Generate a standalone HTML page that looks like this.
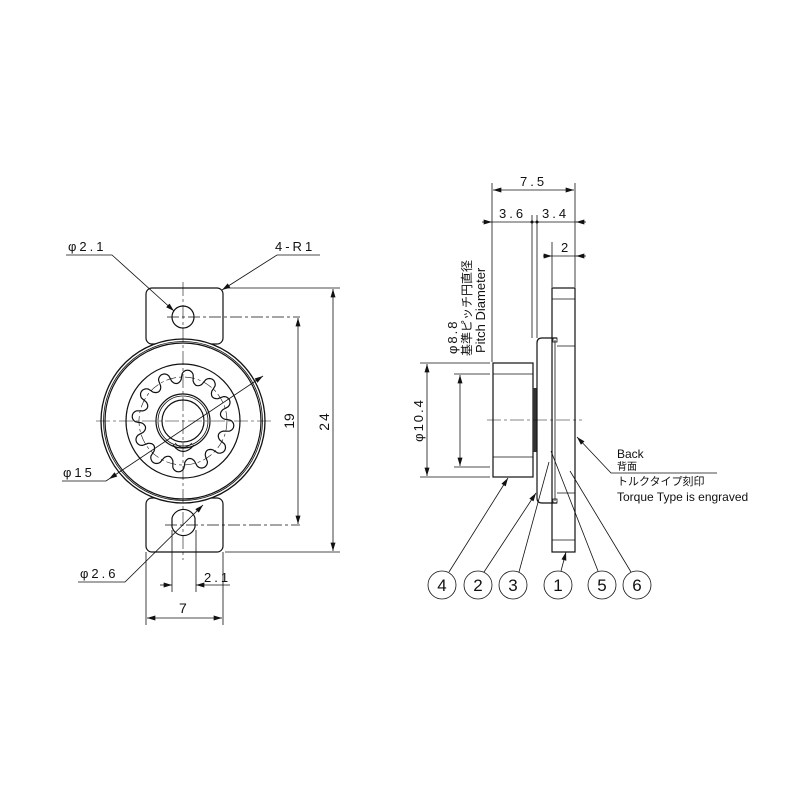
<!DOCTYPE html>
<html><head><meta charset="utf-8"><style>
html,body{margin:0;padding:0;background:#fff}
svg{display:block}
text{font-family:"Liberation Sans","Noto Sans CJK JP",sans-serif;fill:#111}
.l{stroke:#111;stroke-width:1.2;fill:none}
.t{stroke:#111;stroke-width:0.8;fill:none}
.c{stroke:#111;stroke-width:0.6;fill:none;stroke-dasharray:14 3 3 3}
</style></head><body>
<svg width="800" height="800" viewBox="0 0 800 800" xmlns="http://www.w3.org/2000/svg">
<defs>
<marker id="a" viewBox="0 0 10 6" refX="10" refY="3" markerWidth="9" markerHeight="5" orient="auto-start-reverse" markerUnits="userSpaceOnUse"><path d="M0,0 L10,3 L0,6z" fill="#111"/></marker>
</defs>
<g>
<rect class="l" x="146" y="288" width="77" height="56" rx="6"/>
<rect class="l" x="146" y="498" width="77" height="54" rx="6"/>
<circle cx="183" cy="421" r="82" fill="#fff" stroke="#111" stroke-width="1.3"/>
<circle class="l" cx="183" cy="421" r="78"/>
<circle class="t" cx="183" cy="421" r="79.5"/>
<circle class="l" cx="183" cy="421" r="57"/>
<circle cx="183" cy="421" r="44" fill="none" stroke="#111" stroke-width="0.6" stroke-dasharray="10 3 3 3"/>
<path id="gear" class="l" d=""/>
<circle class="l" cx="183" cy="421" r="27"/>
<circle class="t" cx="183" cy="421" r="25"/>
<circle class="l" cx="183" cy="421" r="21"/>
<path class="l" d="M173,445 Q183,458 194,445"/>
<path class="t" d="M175,443 Q183,452 192,443"/>
<circle class="l" cx="183" cy="317" r="11"/>
<path class="l" d="M172,518 A12,12 0 0 1 195,518 L195,527 A12,12 0 0 1 172,527 Z"/>
<line class="c" x1="183" y1="282" x2="183" y2="560"/>
<line class="c" x1="96" y1="421" x2="272" y2="421"/>
<line class="t" x1="167" y1="317" x2="300" y2="317" stroke-dasharray="12 3 3 3"/>
<line class="t" x1="165" y1="525" x2="300" y2="525" stroke-dasharray="12 3 3 3"/>
<line class="t" x1="225" y1="288" x2="340" y2="288"/>
<line class="t" x1="225" y1="552" x2="340" y2="552"/>
<line class="t" x1="298" y1="318" x2="298" y2="524" marker-start="url(#a)" marker-end="url(#a)"/>
<line class="t" x1="333" y1="289" x2="333" y2="551" marker-start="url(#a)" marker-end="url(#a)"/>
<text font-size="14" transform="translate(294,421) rotate(-90)" text-anchor="middle">19</text>
<text font-size="14" transform="translate(329,421) rotate(-90)" text-anchor="middle" letter-spacing="2">24</text>
<line class="t" x1="172" y1="530" x2="172" y2="592"/>
<line class="t" x1="196" y1="530" x2="196" y2="592"/>
<line class="t" x1="146" y1="552" x2="146" y2="625"/>
<line class="t" x1="223" y1="552" x2="223" y2="625"/>
<line class="t" x1="160" y1="585" x2="172" y2="585" marker-end="url(#a)"/>
<line class="t" x1="230" y1="585" x2="196" y2="585" marker-end="url(#a)"/>
<line class="t" x1="147" y1="618" x2="222" y2="618" marker-start="url(#a)" marker-end="url(#a)"/>
<text x="204" y="582" font-size="13" letter-spacing="3">2.1</text>
<text x="179" y="613" font-size="14">7</text>
<polyline class="t" points="66,255 112,255 174,311" marker-end="url(#a)"/>
<text x="68" y="251" font-size="13" letter-spacing="3">φ2.1</text>
<polyline class="t" points="320,255 277,255 222,290" marker-end="url(#a)"/>
<text x="275" y="251" font-size="13" letter-spacing="3">4-R1</text>
<polyline class="t" points="62,481 106,481 109,479"/>
<line class="t" x1="109" y1="479" x2="263" y2="376" marker-start="url(#a)" marker-end="url(#a)"/>
<text x="63" y="477" font-size="13" letter-spacing="3">φ15</text>
<polyline class="t" points="78,582 125,582 203,505" marker-end="url(#a)"/>
<text x="80" y="578" font-size="13" letter-spacing="3">φ2.6</text>
</g>
<g>
<rect class="l" x="552" y="288" width="23" height="264"/>
<line class="t" x1="552" y1="299" x2="575" y2="299"/>
<line class="t" x1="552" y1="540" x2="575" y2="540"/>
<line class="t" x1="557" y1="346" x2="575" y2="346"/>
<line class="t" x1="557" y1="493" x2="575" y2="493"/>
<path class="l" d="M557,338 L542,338 Q537,338 537,343 L537,498 Q537,503 542,503 L557,503" fill="#fff"/>
<line class="t" x1="555" y1="340" x2="555" y2="501"/>
<rect class="t" x="553" y="338" width="4" height="4"/>
<rect class="t" x="553" y="499" width="4" height="4"/>
<rect class="l" x="493" y="363" width="40" height="114"/>
<line class="t" x1="493" y1="374" x2="533" y2="374"/>
<line class="t" x1="493" y1="457" x2="533" y2="457"/>
<rect x="533" y="388" width="3.5" height="64" fill="#333"/>
<line class="c" x1="487" y1="420" x2="582" y2="420"/>
<line class="t" x1="492" y1="183" x2="492" y2="362"/>
<line class="t" x1="575" y1="183" x2="575" y2="287"/>
<line class="t" x1="532" y1="215" x2="532" y2="338"/>
<line class="t" x1="537" y1="215" x2="537" y2="338"/>
<line class="t" x1="552" y1="242" x2="552" y2="287"/>
<line class="t" x1="493" y1="190" x2="574" y2="190" marker-start="url(#a)" marker-end="url(#a)"/>
<text x="520" y="186" font-size="13" letter-spacing="3">7.5</text>
<line class="t" x1="482" y1="222" x2="492" y2="222" marker-end="url(#a)"/>
<line class="t" x1="492" y1="222" x2="585" y2="222"/>
<line class="t" x1="586" y1="222" x2="576" y2="222" marker-end="url(#a)"/>
<circle cx="532" cy="222" r="1.5" fill="#111"/><circle cx="537" cy="222" r="1.5" fill="#111"/>
<text x="499" y="218" font-size="13" letter-spacing="3">3.6</text>
<text x="542" y="218" font-size="13" letter-spacing="3">3.4</text>
<line class="t" x1="543" y1="256" x2="552" y2="256" marker-end="url(#a)"/>
<line class="t" x1="552" y1="256" x2="585" y2="256"/>
<line class="t" x1="586" y1="256" x2="576" y2="256" marker-end="url(#a)"/>
<text x="561" y="252" font-size="13">2</text>
<line class="t" x1="420" y1="363" x2="490" y2="363"/>
<line class="t" x1="420" y1="477" x2="490" y2="477"/>
<line class="t" x1="454" y1="374" x2="490" y2="374"/>
<line class="t" x1="454" y1="467" x2="490" y2="467"/>
<line class="t" x1="427" y1="364" x2="427" y2="476" marker-start="url(#a)" marker-end="url(#a)"/>
<line class="t" x1="460" y1="375" x2="460" y2="466" marker-start="url(#a)" marker-end="url(#a)"/>
<text font-size="13" letter-spacing="2" transform="translate(423,420) rotate(-90)" text-anchor="middle">φ10.4</text>
<text font-size="13" letter-spacing="2" transform="translate(457,354) rotate(-90)">φ8.8</text>
<text font-size="12" transform="translate(471,356) rotate(-90)">基準ピッチ円直径</text>
<text font-size="13" transform="translate(485,353) rotate(-90)">Pitch Diameter</text>
<text x="617" y="458" font-size="12">Back</text>
<text x="617" y="470" font-size="10">背面</text>
<polyline class="t" points="717,473 611,473 577,437" marker-end="url(#a)"/>
<text x="617" y="485" font-size="11">トルクタイプ刻印</text>
<text x="617" y="501" font-size="12">Torque Type is engraved</text>
<g font-size="17" text-anchor="middle">
<circle class="t" cx="442" cy="585" r="14"/><text x="442" y="591">4</text>
<circle class="t" cx="478" cy="585" r="14"/><text x="478" y="591">2</text>
<circle class="t" cx="513" cy="585" r="14"/><text x="513" y="591">3</text>
<circle class="t" cx="558" cy="585" r="14"/><text x="558" y="591">1</text>
<circle class="t" cx="602" cy="585" r="14"/><text x="602" y="591">5</text>
<circle class="t" cx="637" cy="585" r="14"/><text x="637" y="591">6</text>
</g>
<line class="t" x1="449" y1="572" x2="508" y2="478" marker-end="url(#a)"/>
<line class="t" x1="484" y1="572" x2="536" y2="493" marker-end="url(#a)"/>
<line class="t" x1="519" y1="572" x2="549" y2="462"/>
<line class="t" x1="561" y1="571" x2="566" y2="552" marker-end="url(#a)"/>
<line class="t" x1="598" y1="571" x2="551" y2="451"/>
<line class="t" x1="631" y1="572" x2="570" y2="471"/>
</g>
</svg>
<script>
(function(){
var cx=183,cy=421,n=12,ro=51,ri=38,d="";
var N=480;
for(var i=0;i<=N;i++){
 var t=i/N*2*Math.PI;
 var ph=(t*n/(2*Math.PI))%1;
 var c=Math.cos(ph*2*Math.PI);
 var s=0.5+0.5*Math.sign(c)*Math.pow(Math.abs(c),0.45);
 var r=ri+(ro-ri)*s;
 var a=t-Math.PI/2+0.1;
 var x=cx+r*Math.cos(a),y=cy+r*Math.sin(a);
 d+=(i?"L":"M")+x.toFixed(1)+","+y.toFixed(1);
}
document.getElementById("gear").setAttribute("d",d+"Z");
})();
</script>
</body></html>
